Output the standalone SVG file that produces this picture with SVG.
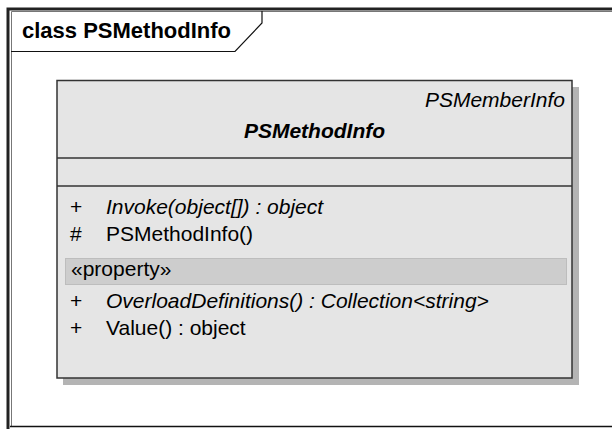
<svg xmlns="http://www.w3.org/2000/svg" width="612" height="429" viewBox="0 0 612 429">
  <style>
    text { font-family: "Liberation Sans", Arial, Helvetica, sans-serif; fill: #000; }
    .title { font-size: 22px; font-weight: bold; }
    .meta { font-size: 21px; font-style: italic; }
    .cname { font-size: 21px; font-weight: bold; font-style: italic; }
    .mem { font-size: 21px; }
    .it { font-style: italic; }
  </style>
  <rect width="612" height="429" fill="#fff"/>

  <!-- diagram frame with its name tab -->
  <g id="frame">
    <path d="M8 429 V9 H612" fill="none" stroke="#222" stroke-width="3"/>
    <path d="M11.5 427 V11.5 H612" fill="none" stroke="#777" stroke-width="1"/>
    <line x1="10" y1="426.5" x2="612" y2="426.5" stroke="#111" stroke-width="1.5"/>
    <path d="M11 51.5 H235 L262 23 V11" fill="none" stroke="#111" stroke-width="1.2"/>
    <text class="title" x="22" y="38">class PSMethodInfo</text>
  </g>

  <!-- class PSMethodInfo -->
  <g id="PSMethodInfo">
    <rect x="63" y="87" width="516" height="298" fill="#b4b4b4"/>
    <rect x="57" y="80.5" width="515" height="297.5" fill="#e5e5e5" stroke="#333" stroke-width="1.5"/>
    <line x1="57" y1="158" x2="572" y2="158" stroke="#333" stroke-width="1.5"/>
    <line x1="57" y1="186" x2="572" y2="186" stroke="#333" stroke-width="1.5"/>
    <text class="meta" x="565" y="107" text-anchor="end">PSMemberInfo</text>
    <text class="cname" x="314.5" y="138" text-anchor="middle">PSMethodInfo</text>

    <text class="mem" x="70" y="214">+</text>
    <text class="mem it" x="106" y="214">Invoke(object[]) : object</text>
    <text class="mem" x="70" y="241">#</text>
    <text class="mem" x="106" y="241">PSMethodInfo()</text>

    <rect x="65.5" y="258.5" width="501" height="26" fill="#cdcdcd" stroke="#bdbdbd" stroke-width="1"/>
    <text class="mem" x="71" y="276">«property»</text>

    <text class="mem" x="70" y="308">+</text>
    <text class="mem it" x="106" y="308">OverloadDefinitions() : Collection&lt;string&gt;</text>
    <text class="mem" x="70" y="335">+</text>
    <text class="mem" x="106" y="335">Value() : object</text>
  </g>
</svg>
